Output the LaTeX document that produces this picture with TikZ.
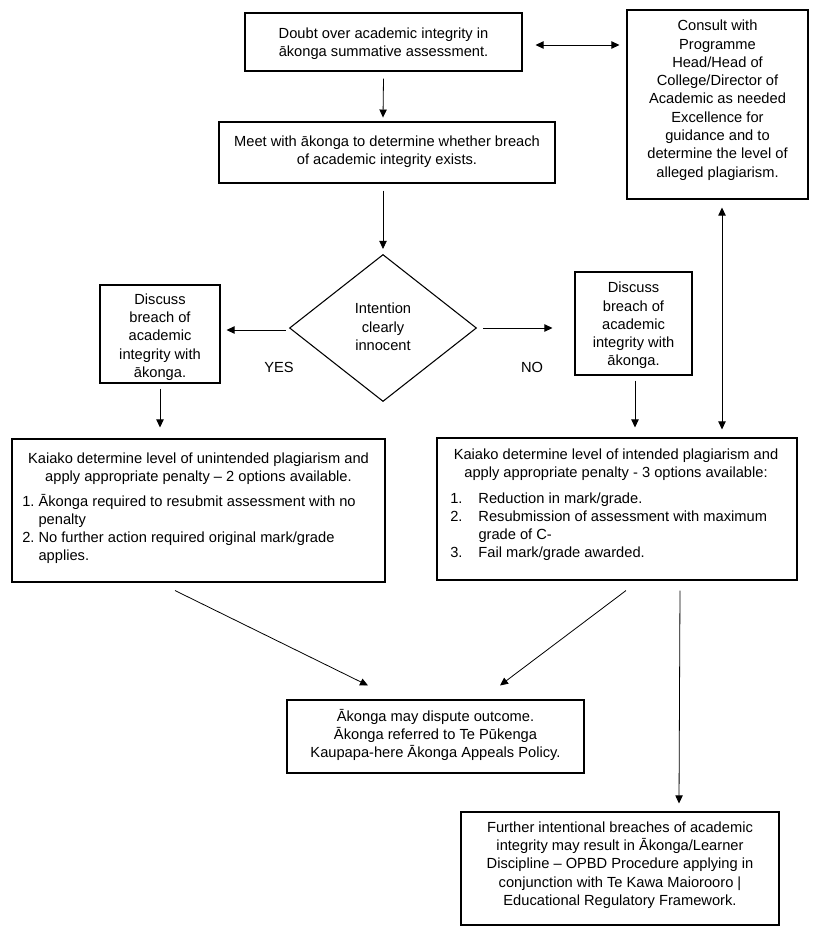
\documentclass[tikz,border=0pt]{standalone}
\usepackage{fontspec}
\setmainfont{Liberation Sans}
\usetikzlibrary{arrows.meta,shapes.geometric,fit,calc}
\begin{document}
\begin{tikzpicture}[x=0.75pt,y=-0.75pt,
  box/.style={draw, line width=0.8pt, inner sep=0pt},
  txt/.style={font=\fontsize{11}{13.7}\selectfont, inner sep=0pt, align=center},
  arr/.style={-{Triangle[length=6pt,width=5.5pt]}, line width=0.6pt},
  darr/.style={{Triangle[length=6pt,width=5.5pt]}-{Triangle[length=6pt,width=5.5pt]}, line width=0.6pt}]
\useasboundingbox[fill=white] (0,0) rectangle (815,939);

\node[box, fit={(245,13) (522,71)}] (doubt) {};
\node[txt] (doubttxt) at ($(doubt.center)+(0,1.5)$) {Doubt over academic integrity in\\ākonga summative assessment.};

\node[box, fit={(627,10) (808,199)}] (consult) {};
\node[txt, anchor=north] (consulttxt) at (717.5,20) {Consult with\\Programme\\Head/Head of\\College/Director of\\Academic as needed\\Excellence for\\guidance and to\\determine the level of\\alleged plagiarism.};

\node[box, fit={(219,122) (555,183)}] (meet) {};
\node[txt] (meettxt) at ($(meet.center)+(0,-1)$) {Meet with ākonga to determine whether breach\\of academic integrity exists.};

\node[draw, diamond, line width=0.8pt, minimum width=140.25pt, minimum height=110.25pt, inner sep=0pt] (dia) at (383,328) {};
\node[txt] (diatxt) at ($(dia.center)+(0,-1)$) {Intention\\clearly\\innocent};

\node[box, fit={(100,285) (220,383)}] (ldisc) {};
\node[txt] (ldisctxt) at ($(ldisc.center)+(0,3)$) {Discuss\\breach of\\academic\\integrity with\\ākonga.};
\node[box, fit={(575,272) (692,375)}] (rdisc) {};
\node[txt] (rdisctxt) at ($(rdisc.center)+(0,2)$) {Discuss\\breach of\\academic\\integrity with\\ākonga.};
\node[txt] (yes) at (279,367) {YES};
\node[txt] (no) at (532,367) {NO};

\node[box, fit={(12,439) (385,582)}] (lk) {};
\node[txt] (lkhead) at (198.5,469) {Kaiako determine level of unintended plagiarism and\\apply appropriate penalty -- 2 options available.};
\node[txt, anchor=north west, align=left] (lklist) at (22,493) {\begin{tabular}{@{}l@{\ }l@{}}1. & Ākonga required to resubmit assessment with no\\ & penalty\\ 2. & No further action required original mark/grade\\ & applies.\end{tabular}};

\node[box, fit={(437,438) (797,580)}] (rk) {};
\node[txt] (rkhead) at (616,465) {Kaiako determine level of intended plagiarism and\\apply appropriate penalty - 3 options available:};
\node[txt, anchor=north west, align=left] (rklist) at (450,490) {\begin{tabular}{@{}l@{\hspace{12pt}}l@{}}1. & Reduction in mark/grade.\\ 2. & Resubmission of assessment with maximum\\ & grade of C-\\ 3. & Fail mark/grade awarded.\end{tabular}};

\node[box, fit={(287,700) (584,773)}] (disp) {};
\node[txt] (disptxt) at ($(disp.center)+(0,-1.5)$) {Ākonga may dispute outcome.\\Ākonga referred to Te Pūkenga\\Kaupapa-here Ākonga Appeals Policy.};
\node[box, fit={(461,812) (779,925)}] (further) {};
\node[txt] (furthertxt) at ($(further.center)+(0,-3.5)$) {Further intentional breaches of academic\\integrity may result in Ākonga/Learner\\Discipline -- OPBD Procedure applying in\\conjunction with Te Kawa Maiorooro |\\Educational Regulatory Framework.};

\draw[darr] ($(doubt.east)+(13,3)$) -- ($(doubt.east -| consult.west)+(-7,3)$);
\draw[arr] ($(doubt.south)+(0,7)$) -- ($(meet.north |- doubt.south)+(-4,46)$);
\draw[arr] ($(meet.south)+(-4,7)$) -- ($(dia.north)+(0,-5)$);
\draw[arr] ($(dia.west)+(-3,2)$) -- ($(ldisc.east |- dia.west)+(6,2)$);
\draw[arr] ($(dia.east)+(6,0)$) -- ($(rdisc.west |- dia.east)+(-22,0)$);
\draw[arr] ($(ldisc.south)+(0,5)$) -- ($(lk.north -| ldisc.south)+(0,-11)$);
\draw[arr] ($(rdisc.south)+(1.5,5)$) -- ($(rk.north -| rdisc.south)+(1.5,-10)$);
\draw[darr] ($(consult.south)+(4.5,8)$) -- ($(rk.north -| consult.south)+(4.5,-8)$);
\draw[arr] ($(lk.south)+(-23.5,8)$) -- ($(disp.north)+(-67.5,-14)$);
\draw[arr] ($(rk.south)+(9,10)$) -- ($(disp.north)+(64.5,-14)$);
\draw[arr] ($(rk.south)+(63,10)$) -- ($(further.north)+(59,-8)$);
\end{tikzpicture}
\end{document}
